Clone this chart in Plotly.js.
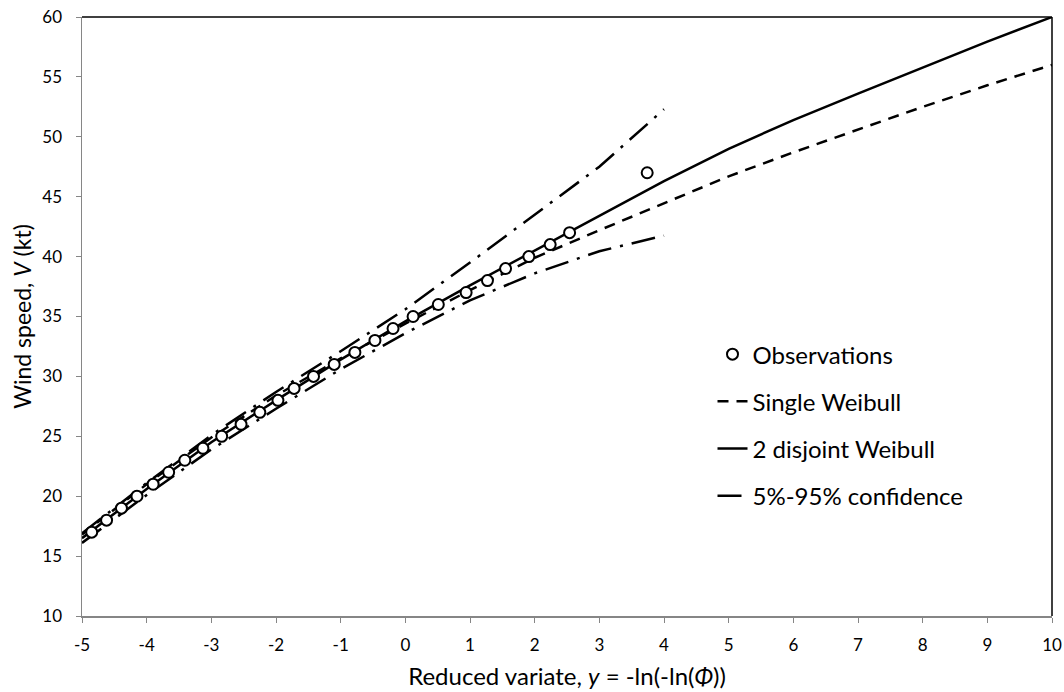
<!DOCTYPE html>
<html>
<head>
<meta charset="utf-8">
<script src="https://cdn.plot.ly/plotly-3.0.1.min.js"></script>
<style>html,body{margin:0;padding:0;background:#fff;}#chart{width:1064px;height:692px;}</style>
</head>
<body>
<div id="chart"></div>
<script>
// Observations (reduced variate y, wind speed V)
const obsX = [-4.85, -4.62, -4.39, -4.15, -3.90, -3.66, -3.41, -3.13, -2.84, -2.54, -2.25, -1.97, -1.72, -1.42, -1.10, -0.78, -0.47, -0.19, 0.12, 0.51, 0.94, 1.27, 1.55, 1.91, 2.24, 2.54, 3.74];
const obsV = [17, 18, 19, 20, 21, 22, 23, 24, 25, 26, 27, 28, 29, 30, 31, 32, 33, 34, 35, 36, 37, 38, 39, 40, 41, 42, 47];

// Fitted curves
const fitX = [-5, -4, -3, -2, -1, 0, 1, 2, 3, 4, 5, 6, 7, 8, 9, 10];
const singleWeibullV = [16.8, 21.0, 24.9, 28.4, 31.5, 34.4, 37.2, 39.9, 42.2, 44.45, 46.7, 48.7, 50.6, 52.5, 54.3, 56.0];
const disjointWeibullV = [16.5, 20.6, 24.5, 28.0, 31.4, 34.6, 37.6, 40.5, 43.4, 46.3, 49.0, 51.4, 53.6, 55.8, 57.95, 60.0];

// 5%-95% confidence bounds
const confX = [-5, -4, -3, -2, -1, 0, 1, 2, 3, 4];
const confUpperV = [16.9, 21.1, 25.1, 28.7, 32.1, 35.6, 39.5, 43.5, 47.5, 52.3];
const confLowerV = [16.1, 20.1, 23.9, 27.3, 30.6, 33.6, 36.35, 38.6, 40.45, 41.75];

const xTickVals = [-5, -4, -3, -2, -1, 0, 1, 2, 3, 4, 5, 6, 7, 8, 9, 10];
const xTickText = ['-5', '-4', '-3', '-2', '-1', '0', '1', '2', '3', '4', '5', '6', '7', '8', '9', '10'];
const yTickVals = [10, 15, 20, 25, 30, 35, 40, 45, 50, 55, 60];
const yTickText = ['10', '15', '20', '25', '30', '35', '40', '45', '50', '55', '60'];

const FONT = 'Lato, "Open Sans", sans-serif';
const dashDot = '24px,9px,3px,9px';

const traces = [
  {x: fitX, y: singleWeibullV, mode: 'lines', name: 'Single Weibull', legendrank: 2, legendgroup: 'b',
   line: {color: '#000', width: 2.5, dash: '11px,8px'}},
  {x: fitX, y: disjointWeibullV, mode: 'lines', name: '2 disjoint Weibull', legendrank: 3, legendgroup: 'c',
   line: {color: '#000', width: 2.5}},
  {x: confX, y: confUpperV, mode: 'lines', name: '5%-95% confidence', legendrank: 4, legendgroup: 'd',
   line: {color: '#000', width: 2.5, dash: dashDot}},
  {x: confX, y: confLowerV, mode: 'lines', name: '5%-95% confidence', showlegend: false, legendgroup: 'd',
   line: {color: '#000', width: 2.5, dash: dashDot}},
  {x: obsX, y: obsV, mode: 'markers', name: 'Observations', legendrank: 1, legendgroup: 'a',
   marker: {symbol: 'circle', size: 11, color: '#fff', line: {color: '#000', width: 2}}}
];

const layout = {
  width: 1064, height: 692,
  margin: {l: 82, r: 12, t: 17, b: 76},
  paper_bgcolor: '#fff', plot_bgcolor: '#fff',
  font: {family: FONT, color: '#000'},
  showlegend: true,
  legend: {x: 0.65, y: 0.474, xanchor: 'left', yanchor: 'top', font: {family: FONT, size: 24, color: '#000'},
           tracegroupgap: 13, bgcolor: 'rgba(0,0,0,0)', traceorder: 'grouped'},
  xaxis: {range: [-5, 10], tickvals: xTickVals, ticktext: xTickText, ticks: 'outside', ticklen: 5, tickcolor: '#868686', tickwidth: 1,
          showline: true, linecolor: '#868686', linewidth: 1.5, showgrid: false, zeroline: false,
          ticklabelstandoff: 8,
          tickfont: {family: FONT, size: 17, color: '#000'},
          title: {text: 'Reduced variate, <i>y</i> = -ln(-ln(<i>Φ</i>))', font: {family: FONT, size: 24, color: '#000'}, standoff: 14}},
  yaxis: {range: [10, 60], tickvals: yTickVals, ticktext: yTickText, ticks: 'outside', ticklen: 5, tickcolor: '#868686', tickwidth: 1,
          showline: true, linecolor: '#868686', linewidth: 1.5, showgrid: false, zeroline: false,
          ticklabelstandoff: 10,
          tickfont: {family: FONT, size: 17, color: '#000'},
          title: {text: 'Wind speed, <i>V</i> (kt)', font: {family: FONT, size: 23, color: '#000'}, standoff: 4}},
  shapes: [
    {type: 'line', xref: 'paper', yref: 'paper', x0: 0, x1: 1, y0: 1, y1: 1, line: {color: '#000', width: 1.5}},
    {type: 'line', xref: 'paper', yref: 'paper', x0: 1, x1: 1, y0: 0, y1: 1, line: {color: '#000', width: 1.5}}
  ]
};

Plotly.newPlot('chart', traces, layout, {displayModeBar: false, staticPlot: true});
</script>
</body>
</html>
